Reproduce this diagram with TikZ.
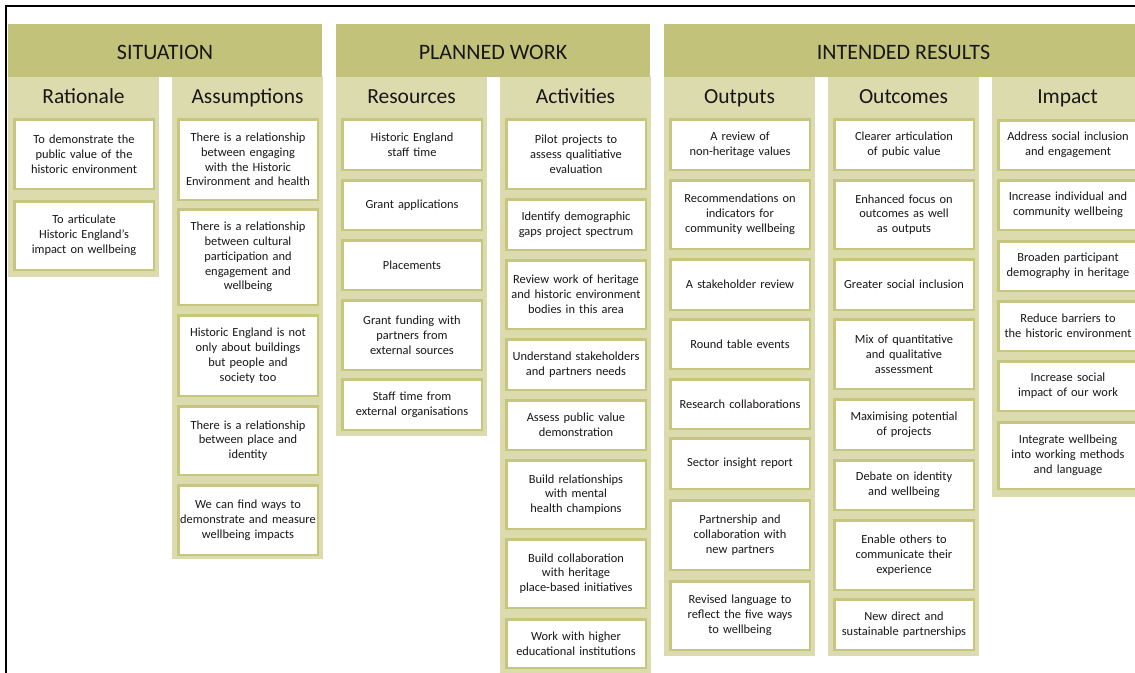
\documentclass[tikz,border=0pt]{standalone}
\usepackage{fontspec}
\setmainfont{Carlito}
\definecolor{headolive}{RGB}{194,194,122}
\definecolor{colbg}{RGB}{219,219,173}
\definecolor{boxline}{RGB}{198,198,128}
\definecolor{ink}{RGB}{25,22,23}
\newcommand\bx[5]{\node[box, minimum height={(#4)-(#3)-2.5}, anchor=north west] (#1) at ({#2+1.25},{#3+1.25}) {#5};}
\newcommand\colb[4]{\node[colpanel, minimum height={(#3)-77}, anchor=north west] (#1) at (#2,77) {};
  \node[coltitle] (#1T) at ({#2+75.5},103.6) {#4};}
\tikzset{
  banner/.style={fill=headolive, draw=none, inner sep=0pt, outer sep=0pt, minimum height=53},
  bannertext/.style={text=ink, inner sep=0pt, anchor=base, font=\fontsize{22}{26}\selectfont},
  colpanel/.style={fill=colbg, draw=none, inner sep=0pt, outer sep=0pt, minimum width=151},
  coltitle/.style={text=ink, inner sep=0pt, anchor=base, font=\fontsize{21.5}{25}\selectfont},
  box/.style={fill=white, draw=boxline, line width=2.5pt, inner sep=0pt, outer sep=0pt,
    minimum width=139.5, text width=138, align=center, text=ink,
    font=\fontsize{12.4}{14.8}\selectfont}
}
\begin{document}
\begin{tikzpicture}[x=1pt,y=-1pt]
\useasboundingbox (0,0) rectangle (1135,672);
\clip (0,0) rectangle (1135,672);
\fill[white] (0,0) rectangle (1135,672);
\draw[line width=2pt, black] (1140,5.5) -- (5.5,5.5) -- (5.5,680);

% banners
\node[banner, minimum width=314, anchor=north west] (situation) at (8,24) {};
\node[bannertext] (situationT) at (165,59.6) {SITUATION};
\node[banner, minimum width=314, anchor=north west] (planned) at (336,24) {};
\node[bannertext] (plannedT) at (493,59.6) {PLANNED WORK};
\node[banner, minimum width=490, anchor=north west] (intended) at (664,24) {};
\node[bannertext] (intendedT) at (903.5,59.6) {INTENDED RESULTS};

% column panels
\colb{rationale}{8}{277}{Rationale}
\colb{assumptions}{172}{559}{Assumptions}
\colb{resources}{336}{436}{Resources}
\colb{activities}{500}{690}{Activities}
\colb{outputs}{664}{656}{Outputs}
\colb{outcomes}{828}{656}{Outcomes}
\colb{impact}{992}{497}{Impact}

% Rationale
\bx{ra1}{13}{118}{190}{To demonstrate the\\public value of the\\historic environment}
\bx{ra2}{13}{200}{271}{To articulate\\Historic England's\\impact on wellbeing}

% Assumptions
\bx{as1}{177}{118}{201}{There is a relationship\\between engaging\\with the Historic\\Environment and health}
\bx{as2}{177}{208}{306}{There is a relationship\\between cultural\\participation and\\engagement and\\wellbeing}
\bx{as3}{177}{314}{397}{Historic England is not\\only about buildings\\but people and\\society too}
\bx{as4}{177}{405}{476}{There is a relationship\\between place and\\identity}
\bx{as5}{177}{484}{556}{We can find ways to\\demonstrate and measure\\wellbeing impacts}

% Resources
\bx{re1}{341}{118}{171}{Historic England\\staff time}
\bx{re2}{341}{179}{231}{Grant applications}
\bx{re3}{341}{239}{291}{Placements}
\bx{re4}{341}{299}{371}{Grant funding with\\partners from\\external sources}
\bx{re5}{341}{378}{431}{Staff time from\\external organisations}

% Activities
\bx{ac1}{505}{118}{190}{Pilot projects to\\assess qualitiative\\evaluation}
\bx{ac2}{505}{198}{251}{Identify demographic\\gaps project spectrum}
\bx{ac3}{505}{259}{330}{Review work of heritage\\and historic environment\\bodies in this area}
\bx{ac4}{505}{338}{391}{Understand stakeholders\\and partners needs}
\bx{ac5}{505}{399}{451}{Assess public value\\demonstration}
\bx{ac6}{505}{459}{530}{Build relationships\\with mental\\health champions}
\bx{ac7}{505}{538}{609}{Build collaboration\\with heritage\\place-based initiatives}
\bx{ac8}{505}{618}{669}{Work with higher\\educational institutions}

% Outputs
\bx{op1}{669}{118}{171}{A review of\\non-heritage values}
\bx{op2}{669}{179}{250}{Recommendations on\\indicators for\\community wellbeing}
\bx{op3}{669}{258}{311}{A stakeholder review}
\bx{op4}{669}{318}{370}{Round table events}
\bx{op5}{669}{378}{430}{Research collaborations}
\bx{op6}{669}{437}{490}{Sector insight report}
\bx{op7}{669}{499}{571}{Partnership and\\collaboration with\\new partners}
\bx{op8}{669}{580}{651}{Revised language to\\reflect the five ways\\to wellbeing}

% Outcomes
\bx{oc1}{833}{118}{171}{Clearer articulation\\of pubic value}
\bx{oc2}{833}{179}{250}{Enhanced focus on\\outcomes as well\\as outputs}
\bx{oc3}{833}{258}{311}{Greater social inclusion}
\bx{oc4}{833}{318}{390}{Mix of quantitative\\and qualitative\\assessment}
\bx{oc5}{833}{398}{451}{Maximising potential\\of projects}
\bx{oc6}{833}{459}{511}{Debate on identity\\and wellbeing}
\bx{oc7}{833}{519}{591}{Enable others to\\communicate their\\experience}
\bx{oc8}{833}{598}{651}{New direct and\\sustainable partnerships}

% Impact
\bx{im1}{997}{119}{171}{Address social inclusion\\and engagement}
\bx{im2}{997}{179}{231}{Increase individual and\\community wellbeing}
\bx{im3}{997}{240}{292}{Broaden participant\\demography in heritage}
\bx{im4}{997}{300}{352}{Reduce barriers to\\the historic environment}
\bx{im5}{997}{360}{412}{Increase social\\impact of our work}
\bx{im6}{997}{421}{490}{Integrate wellbeing\\into working methods\\and language}
\end{tikzpicture}
\end{document}
